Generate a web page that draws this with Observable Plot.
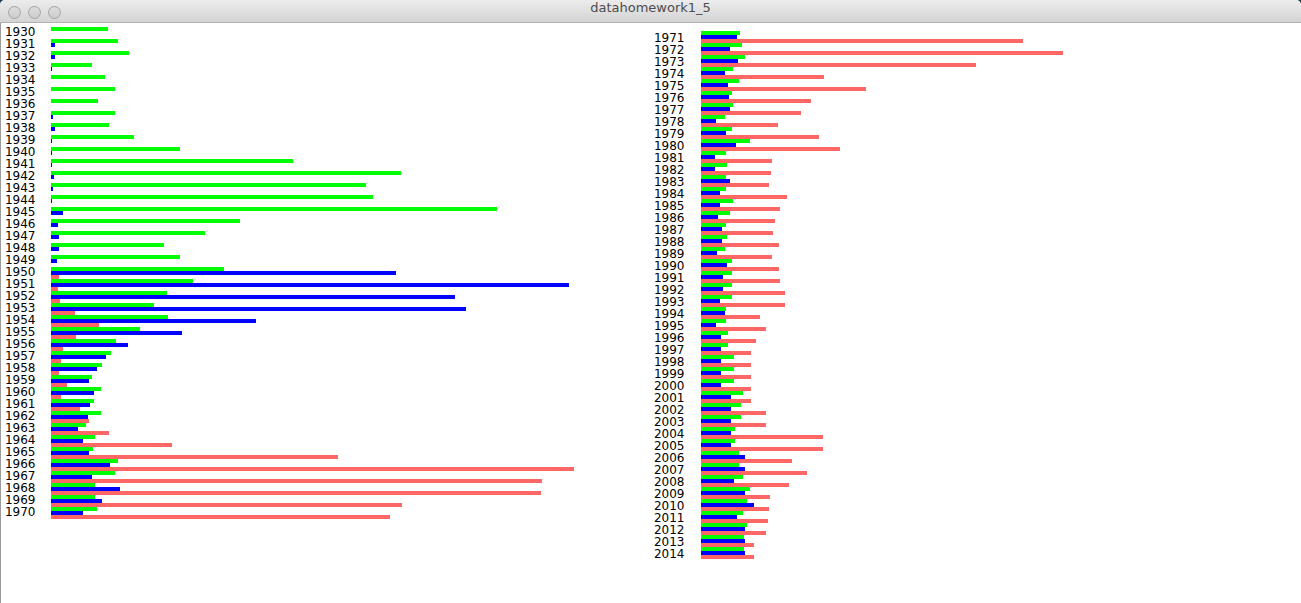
<!DOCTYPE html>
<html><head><meta charset="utf-8">
<script src="https://cdn.jsdelivr.net/npm/d3@7"></script>
<script src="https://cdn.jsdelivr.net/npm/@observablehq/plot@0.6"></script>
<style>
html,body{margin:0;padding:0;background:#1d3b4a;width:1301px;height:603px;overflow:hidden;}
#win{position:absolute;left:0;top:0;width:1301px;height:603px;background:#fff;border-radius:5px 5px 0 0;overflow:hidden;}
#bar{position:absolute;left:0;top:0;width:1301px;height:22px;background:linear-gradient(#ececec,#d4d4d4);border-bottom:1px solid #b1b1b1;z-index:2;}
.dot{position:absolute;top:6px;width:11px;height:11px;border-radius:50%;background:linear-gradient(#dcdcdc,#cdcdcd);border:1px solid #a4a4a4;}
#title{position:absolute;left:0;top:0;width:100%;line-height:22px;text-align:center;font:13px "DejaVu Sans",sans-serif;color:#4d4d4d;}
#leftEdge{position:absolute;left:0;top:23px;width:1px;height:580px;background:#9a9a9a;z-index:2;}
.layer{position:absolute;top:0;}
</style>
</head><body>
<div id="win">
  <div id="bar">
    <div class="dot" style="left:8px"></div>
    <div class="dot" style="left:28px"></div>
    <div class="dot" style="left:48px"></div>
    <div id="title">datahomework1_5</div>
  </div>
  <div id="leftEdge"></div>
  <div id="leftBars" class="layer" style="left:0;top:0"></div>
  <div id="leftLabels" class="layer" style="left:0;top:0"></div>
  <div id="rightBars" class="layer" style="left:650px;top:4px"></div>
  <div id="rightLabels" class="layer" style="left:650px;top:4px"></div>
</div>
<script>
// ---- Left panel data (1930-1970) ----
const yearsLeft = [1930,1931,1932,1933,1934,1935,1936,1937,1938,1939,1940,1941,1942,1943,1944,1945,1946,1947,1948,1949,1950,1951,1952,1953,1954,1955,1956,1957,1958,1959,1960,1961,1962,1963,1964,1965,1966,1967,1968,1969,1970];
const greenLeft = [57,67,78,41,54,64,47,64,58,83,129,242,350,315,322,446,189,154,113,129,173,142,116,103,117,89,65,60,51,41,50,43,50,35,44,42,67,64,44,44,46];
const blueLeft  = [0,4,4,1,0,0,0,2,4,1,1,1,3,2,1,12,7,8,8,6,345,518,404,415,205,131,77,55,46,38,43,39,37,27,32,38,59,41,69,51,32];
const redLeft   = [0,0,0,0,0,0,0,0,0,0,0,0,0,0,0,0,0,0,0,0,8,7,9,24,48,25,12,10,8,16,10,29,38,58,121,287,523,491,490,351,339];

// ---- Right panel data (1971-2014) ----
const yearsRight = [1971,1972,1973,1974,1975,1976,1977,1978,1979,1980,1981,1982,1983,1984,1985,1986,1987,1988,1989,1990,1991,1992,1993,1994,1995,1996,1997,1998,1999,2000,2001,2002,2003,2004,2005,2006,2007,2008,2009,2010,2011,2012,2013,2014];
const greenRight = [39,41,44,32,38,31,32,24,31,49,25,26,25,25,32,29,25,26,24,31,31,31,31,25,25,27,27,33,33,33,42,40,40,34,34,38,38,42,49,46,42,46,43,43];
const blueRight  = [36,29,37,24,27,28,29,15,25,35,14,14,29,19,19,17,21,21,16,26,22,22,19,24,15,20,20,20,20,20,30,30,30,30,30,44,44,33,44,53,36,44,44,44];
const redRight   = [322,362,275,123,165,110,100,77,118,139,71,70,68,86,79,74,72,78,71,78,79,84,84,59,65,55,50,50,50,50,50,65,65,122,122,91,106,88,69,68,67,65,53,53];

const seriesColors = {g:"#00ff00", b:"#0000ff", r:"#ff6666"};
const H = 580;
const baseStyle = {fontFamily: "DejaVu Sans", fontSize: "12px", color: "#000", background: "transparent", overflow: "visible"};

function barsPanel(years, g, b, r) {
  const rows = years.map((y, i) => ({year: String(y), g: g[i], b: b[i], r: r[i]}));
  const top = 27, rowH = 12;
  return Plot.plot({
    width: 651, height: H,
    marginLeft: 51, marginRight: 0,
    marginTop: top, marginBottom: H - top - rowH * years.length,
    x: {domain: [0, 600], axis: null},
    y: {domain: rows.map(d => d.year), padding: 0, axis: null},
    style: baseStyle,
    marks: [
      Plot.barX(rows, {x: "g", y: "year", fill: seriesColors.g, insetTop: 0, insetBottom: 8}),
      Plot.barX(rows, {x: "b", y: "year", fill: seriesColors.b, insetTop: 4, insetBottom: 4}),
      Plot.barX(rows, {x: "r", y: "year", fill: seriesColors.r, insetTop: 8, insetBottom: 0})
    ]
  });
}

// year labels: drawn on their own band scale (slightly wider row pitch, as in the original)
function labelsPanel(years, top, rowH, padRight) {
  const domain = years.map(String);
  return Plot.plot({
    width: 651, height: H,
    marginLeft: 51, marginRight: 0,
    marginTop: top, marginBottom: H - top - rowH * years.length,
    x: {domain: [0, 600], axis: null},
    y: {domain, padding: 0},
    style: baseStyle,
    marks: [
      Plot.axisY({tickSize: 0, tickPadding: padRight, fontSize: 12, label: null, fill: "#000"})
    ]
  });
}

document.getElementById("leftBars").appendChild(barsPanel(yearsLeft, greenLeft, blueLeft, redLeft));
document.getElementById("leftLabels").appendChild(labelsPanel(yearsLeft, 25, 12.05, 16));
document.getElementById("rightBars").appendChild(barsPanel(yearsRight, greenRight, blueRight, redRight));
document.getElementById("rightLabels").appendChild(labelsPanel(yearsRight, 26.7, 12.05, 17));
</script>
</body></html>
